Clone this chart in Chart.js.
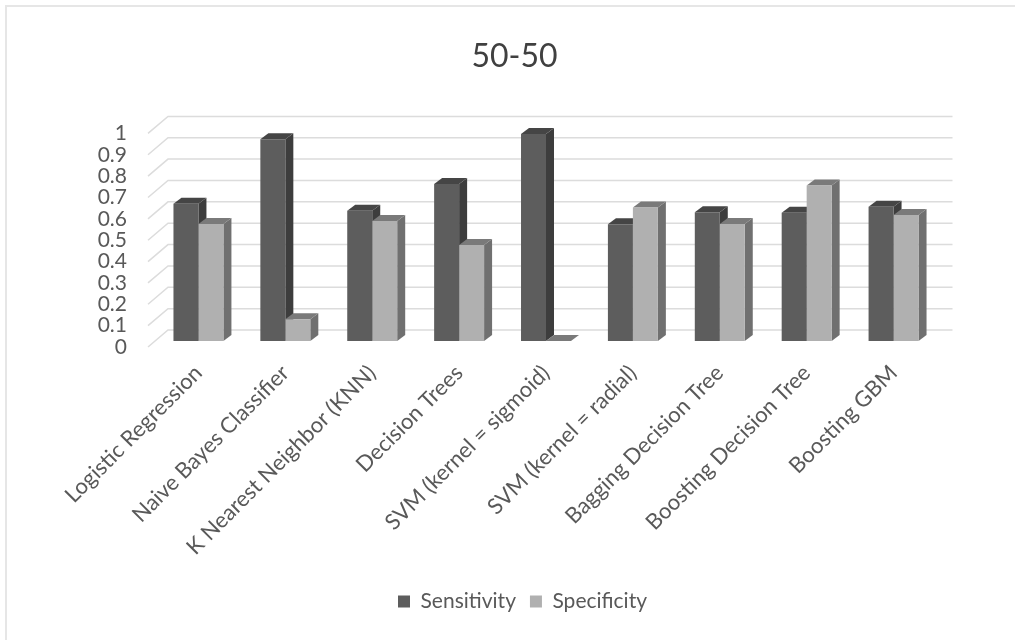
<!DOCTYPE html>
<html><head><meta charset="utf-8">
<style>html,body{margin:0;padding:0;background:#fff}#w{position:relative;width:1015px;height:640px;filter:blur(0.7px)}</style>
<script src="https://cdn.jsdelivr.net/npm/chart.js@4"></script>
</head><body><div id="w"><canvas id="c" width="1015" height="640"></canvas></div>
<script>
const categories = ["Logistic Regression","Naive Bayes Classifier","K Nearest Neighbor (KNN)","Decision Trees","SVM (kernel = sigmoid)","SVM (kernel = radial)","Bagging Decision Tree","Boosting Decision Tree","Boosting GBM"];
const sensitivity = [0.642,0.945,0.61,0.735,0.969,0.546,0.603,0.60,0.629];
const specificity = [0.548,0.102,0.562,0.449,0,0.625,0.548,0.728,0.59];
const yTickLabels = ["0","0.1","0.2","0.3","0.4","0.5","0.6","0.7","0.8","0.9","1"];
const FONT = "Lato";
const TEXT = "#595959";
const styles = [{front:"#5d5d5d",side:"#3d3d3d",top:"#454545"},{front:"#b0b0b0",side:"#707070",top:"#7a7a7a"}];
const barDepth = {dx:8,dy:-6};
const wall = {backUp:11,frontDown:6,left:-7,back:13,right:952.5};

function poly(ctx,pts,fill){ctx.fillStyle=fill;ctx.beginPath();pts.forEach((p,i)=>i?ctx.lineTo(p[0],p[1]):ctx.moveTo(p[0],p[1]));ctx.closePath();ctx.fill();}

const frame = {id:"frame",
  afterLayout(chart){chart.legend.left+=8;chart.legend.right+=8;},
  beforeDraw(chart){const c=chart.ctx;c.save();c.strokeStyle="#e6e6e6";c.lineWidth=2;c.beginPath();c.moveTo(6,640);c.lineTo(6,6);c.lineTo(1015,6);c.stroke();c.restore();}};
const wallGrid = {id:"wallGrid",beforeDatasetsDraw(chart){
  const c=chart.ctx,y=chart.scales.y,a=chart.chartArea;
  c.save();c.strokeStyle="#dcdcdc";c.lineWidth=1.5;
  y.ticks.forEach(t=>{const p=y.getPixelForValue(t.value);c.beginPath();
    c.moveTo(a.left+wall.left,p+wall.frontDown);c.lineTo(a.left+wall.back,p-wall.backUp);c.lineTo(wall.right,p-wall.backUp);c.stroke();});
  c.restore();
  [0,1].forEach(i=>{const s=styles[i];
    chart.getDatasetMeta(i).data.forEach(b=>{
      const h=b.getProps(["x","y","base","width"]);
      const l=h.x-h.width/2,r=h.x+h.width/2,d=barDepth;
      poly(c,[[r,h.y],[r+d.dx,h.y+d.dy],[r+d.dx,h.base+d.dy],[r,h.base]],s.side);
      poly(c,[[l,h.y],[l+d.dx,h.y+d.dy],[r+d.dx,h.y+d.dy],[r,h.y]],s.top);
    });});
}};

new Chart(document.getElementById("c"),{
  type:"bar",
  data:{labels:categories,datasets:[
    {label:"Sensitivity",data:sensitivity,backgroundColor:styles[0].front,categoryPercentage:0.575,barPercentage:1},
    {label:"Specificity",data:specificity,backgroundColor:styles[1].front,categoryPercentage:0.575,barPercentage:1}
  ]},
  plugins:[frame,wallGrid],
  options:{responsive:false,animation:false,
    layout:{padding:{left:14,right:0,top:37,bottom:18}},
    scales:{
      x:{grid:{display:false},border:{display:false},
        afterFit(s){s.height=236;},
        ticks:{color:TEXT,font:{family:FONT,size:22},minRotation:45,maxRotation:45,autoSkip:false,padding:11}},
      y:{min:0,max:1,grid:{display:false},border:{display:false},
        afterFit(s){s.width=141;},
        ticks:{stepSize:0.1,autoSkip:false,color:TEXT,font:{family:FONT,size:21},labelOffset:6,padding:20,
          callback:(v)=>yTickLabels[Math.round(v*10)]}},
      gutter:{position:"right",display:true,grid:{display:false},border:{display:false},ticks:{display:false},
        afterFit(s){s.width=78;}}
    },
    plugins:{
      title:{display:true,text:"50-50",color:"#404040",font:{family:FONT,size:32,weight:"normal"},padding:{top:0,bottom:52}},
      legend:{position:"bottom",labels:{color:TEXT,font:{family:FONT,size:21},boxWidth:12,boxHeight:12,padding:14}},
      tooltip:{enabled:false}
    }
  }
});
</script></body></html>
